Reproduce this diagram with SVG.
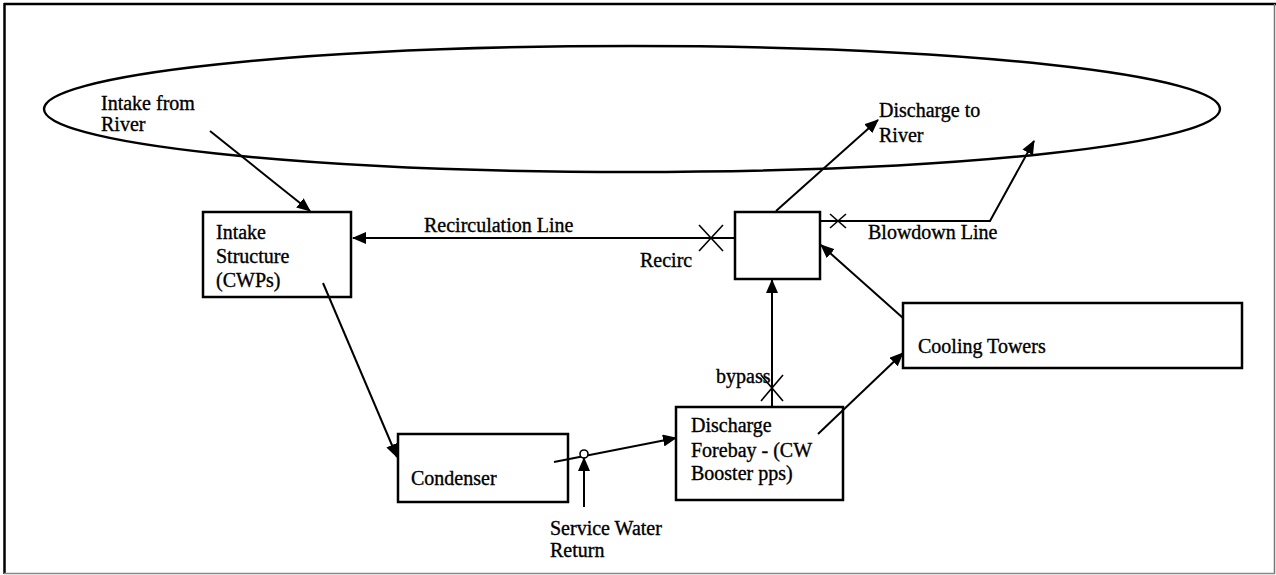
<svg xmlns="http://www.w3.org/2000/svg" width="1276" height="575" viewBox="0 0 1276 575">
<style>
.box{fill:#fff;stroke:#000;stroke-width:2.5}
.ln{fill:none;stroke:#000;stroke-width:2}
.x{stroke:#000;stroke-width:1.6}
text{font-family:"Liberation Serif","Times New Roman",serif;font-size:20px;fill:#000;stroke:#000;stroke-width:0.35}
</style>
<defs>
<marker id="ah" markerUnits="userSpaceOnUse" markerWidth="14" markerHeight="12" viewBox="0 0 14 12" refX="13" refY="6" orient="auto">
<path d="M0,0 L14,6 L0,12 Z" fill="#000"/>
</marker>
</defs>
<rect width="1276" height="575" fill="#fff"/>
<g id="frame">
<line x1="4" y1="4" x2="1276" y2="4" stroke="#000" stroke-width="2.5"/>
<line x1="4.5" y1="3" x2="4.5" y2="574" stroke="#000" stroke-width="2.5"/>
<line x1="1274.5" y1="4" x2="1274.5" y2="574" stroke="#777" stroke-width="1.5"/>
<line x1="4" y1="573.5" x2="1275" y2="573.5" stroke="#888" stroke-width="1.5"/>
</g>
<g id="river">
<ellipse cx="632" cy="109" rx="588" ry="63" fill="none" stroke="#000" stroke-width="2.4"/>
</g>
<g id="intake-structure">
<rect class="box" x="203" y="212" width="148" height="85"/>
<text x="216" y="239">Intake</text>
<text x="216" y="263">Structure</text>
<text x="216" y="287">(CWPs)</text>
</g>
<g id="junction">
<rect class="box" x="735" y="212" width="85" height="67"/>
</g>
<g id="cooling-towers">
<rect class="box" x="903" y="303" width="339" height="65"/>
<text x="918" y="353">Cooling Towers</text>
</g>
<g id="condenser">
<rect class="box" x="398" y="434" width="170" height="68"/>
<text x="411" y="485">Condenser</text>
</g>
<g id="forebay">
<rect class="box" x="676" y="407" width="167" height="93"/>
<text x="691" y="432">Discharge</text>
<text x="691" y="457">Forebay - (CW</text>
<text x="691" y="480">Booster pps)</text>
</g>
<g id="connectors">
<line class="ln" x1="210" y1="131" x2="310" y2="211" marker-end="url(#ah)"/>
<line class="ln" x1="735" y1="238" x2="353" y2="238" marker-end="url(#ah)"/>
<line class="x" x1="699" y1="225" x2="723" y2="251"/>
<line class="x" x1="723" y1="225" x2="699" y2="251"/>
<line class="ln" x1="323" y1="283" x2="397" y2="457" marker-end="url(#ah)"/>
<line class="ln" x1="554" y1="462" x2="676" y2="438" marker-end="url(#ah)"/>
<circle cx="584" cy="454" r="4" fill="#fff" stroke="#000" stroke-width="1.6"/>
<line class="ln" x1="584" y1="507" x2="584" y2="458" marker-end="url(#ah)"/>
<line class="ln" x1="772" y1="407" x2="772" y2="280" marker-end="url(#ah)"/>
<line class="x" x1="761" y1="375" x2="783" y2="401"/>
<line class="x" x1="783" y1="375" x2="761" y2="401"/>
<line class="ln" x1="818" y1="434" x2="903" y2="353" marker-end="url(#ah)"/>
<line class="ln" x1="903" y1="318" x2="821" y2="245" marker-end="url(#ah)"/>
<line class="ln" x1="776" y1="211" x2="878" y2="120" marker-end="url(#ah)"/>
<polyline class="ln" points="820,221 990,221 1034,141" marker-end="url(#ah)"/>
<line class="x" x1="830" y1="214" x2="846" y2="228"/>
<line class="x" x1="846" y1="214" x2="830" y2="228"/>
</g>
<g id="labels">
<text x="101" y="110">Intake from</text>
<text x="101" y="131">River</text>
<text x="879" y="117">Discharge to</text>
<text x="879" y="142">River</text>
<text x="424" y="232">Recirculation Line</text>
<text x="640" y="267">Recirc</text>
<text x="868" y="239">Blowdown Line</text>
<text x="716" y="383">bypass</text>
<text x="550" y="535">Service Water</text>
<text x="550" y="557">Return</text>
</g>
</svg>
